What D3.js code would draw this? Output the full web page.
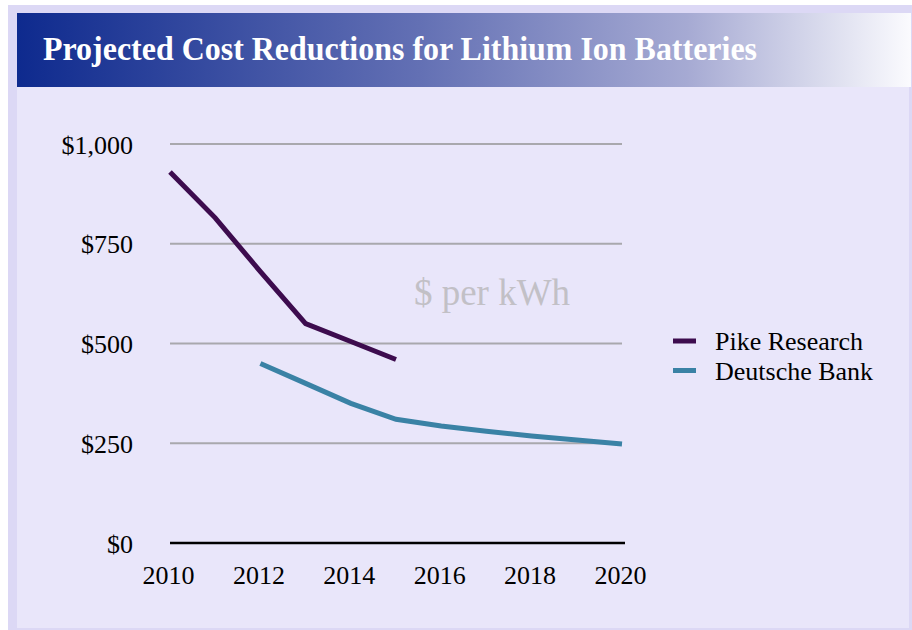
<!DOCTYPE html>
<html>
<head>
<meta charset="utf-8">
<title>Projected Cost Reductions for Lithium Ion Batteries</title>
<script src="https://cdn.jsdelivr.net/npm/d3@7"></script>
<style>
  body { margin: 0; background: #fff; }
  text { font-family: "Liberation Serif", "Times New Roman", serif; }
  .y-axis path, .y-axis line, .x-axis line { display: none; }
  .x-axis path { stroke: #000; stroke-width: 2.5; }
  .y-axis text, .x-axis text { font-size: 26px; fill: #000; }
</style>
</head>
<body>
<script>
  var w = 912, h = 630;

  // data
  var yearTicks = [2010, 2012, 2014, 2016, 2018, 2020];
  var valueTicks = [0, 250, 500, 750, 1000];
  var pikeYears = [2010, 2011, 2012, 2013, 2014, 2015];
  var pikeCost = [930, 815, 680, 550, 505, 460];
  var dbYears = [2012, 2013, 2014, 2015, 2016, 2017, 2018, 2019, 2020];
  var dbCost = [450, 400, 350, 310, 293, 280, 268, 258, 248];
  var seriesNames = ["Pike Research", "Deutsche Bank"];
  var seriesColors = ["#3d0c4e", "#3a82a5"];

  var svg = d3.select("body").append("svg")
              .attr("width", w)
              .attr("height", h);

  // frame + panel
  svg.append("rect").attr("x", 8).attr("y", 5).attr("width", w - 8).attr("height", 625).attr("fill", "#dcd8f5");
  svg.append("rect").attr("x", 17).attr("y", 13).attr("width", 892).attr("height", 615).attr("fill", "#e9e6fa");

  var grad = svg.append("defs").append("linearGradient").attr("id", "titleGrad");
  grad.append("stop").attr("offset", "0%").attr("stop-color", "#0e2a8e");
  grad.append("stop").attr("offset", "45%").attr("stop-color", "#6370b4");
  grad.append("stop").attr("offset", "75%").attr("stop-color", "#a6aad3");
  grad.append("stop").attr("offset", "100%").attr("stop-color", "#fbfbfe");

  svg.append("rect").attr("x", 17).attr("y", 13).attr("width", 894).attr("height", 74).attr("fill", "url(#titleGrad)");

  svg.append("text")
     .attr("x", 43).attr("y", 60)
     .attr("font-size", 33).attr("font-weight", "bold").attr("fill", "#fff")
     .attr("textLength", 714).attr("lengthAdjust", "spacingAndGlyphs")
     .text("Projected Cost Reductions for Lithium Ion Batteries");

  var xScale = d3.scaleLinear().domain([2010, 2020]).range([170, 622]);
  var yScale = d3.scaleLinear().domain([0, 1000]).range([543, 144]);

  // gridlines
  svg.append("g").selectAll("line")
     .data(valueTicks.filter(function (d) { return d > 0; }))
     .enter().append("line")
     .attr("x1", xScale(2010)).attr("x2", xScale(2020))
     .attr("y1", function (d) { return yScale(d); })
     .attr("y2", function (d) { return yScale(d); })
     .attr("stroke", "#a9a8ad").attr("stroke-width", 2);

  var yAxis = d3.axisLeft(yScale).tickValues(valueTicks).tickSize(0).tickPadding(37)
                .tickFormat(function (d) { return "$" + d3.format(",")(d); });
  svg.append("g").attr("class", "y-axis")
     .attr("transform", "translate(" + xScale(2010) + ",0)")
     .call(yAxis)
     .selectAll("text").attr("dy", "0.35em");

  var xAxis = d3.axisBottom(xScale).tickValues(yearTicks).tickSize(0).tickPadding(32)
                .tickFormat(d3.format("d"));
  var gx = svg.append("g").attr("class", "x-axis")
     .attr("transform", "translate(0," + yScale(0) + ")")
     .call(xAxis);
  gx.select("path").attr("d", "M" + xScale(2010) + ",0H" + (xScale(2020) + 3));
  gx.selectAll("text").attr("dy", "0.35em").attr("dx", -2);

  var lineFun = d3.line()
                  .x(function (d) { return xScale(d[0]); })
                  .y(function (d) { return yScale(d[1]); });

  var pikeData = d3.zip(pikeYears, pikeCost);
  var dbData = d3.zip(dbYears, dbCost);

  svg.append("path").datum(dbData)
     .attr("d", lineFun).attr("fill", "none")
     .attr("stroke", seriesColors[1]).attr("stroke-width", 5);

  svg.append("path").datum(pikeData)
     .attr("d", lineFun).attr("fill", "none")
     .attr("stroke", seriesColors[0]).attr("stroke-width", 5);

  // unit label
  svg.append("text")
     .attr("x", 492).attr("y", 305)
     .attr("text-anchor", "middle")
     .attr("font-size", 37).attr("fill", "#c2c0c6")
     .text("$ per kWh");

  // legend
  var legend = svg.append("g").selectAll("g")
                  .data(seriesNames)
                  .enter().append("g")
                  .attr("transform", function (d, i) { return "translate(673," + (341 + i * 29.5) + ")"; });
  legend.append("line")
        .attr("x1", 0).attr("x2", 23).attr("y1", 0).attr("y2", 0)
        .attr("stroke", function (d, i) { return seriesColors[i]; })
        .attr("stroke-width", 5);
  legend.append("text")
        .attr("x", 42).attr("dy", "0.35em")
        .attr("font-size", 26).attr("fill", "#000")
        .text(function (d) { return d; });
</script>
</body>
</html>
